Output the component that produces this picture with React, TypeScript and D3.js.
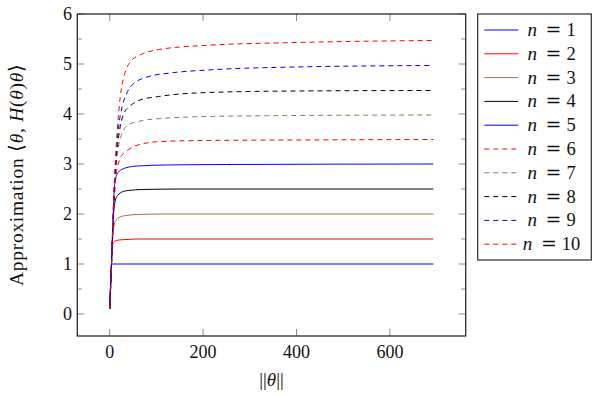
import React from "react";
import { scaleLinear, line, curveMonotoneX } from "d3";

// approximation curves, one [||theta||, value] list per n
const pts1: [number, number][] = [[0, 0.1], [3, 0.8], [4.5, 1.0], [8, 1.0], [693, 1.0]];
const pts2: [number, number][] = [[0, 0.1], [3, 0.8], [5, 1.25], [6, 1.36], [8, 1.43], [12, 1.46], [20, 1.48], [35, 1.49], [60, 1.5], [693, 1.5]];
const pts3: [number, number][] = [[0, 0.1], [3, 0.8], [6, 1.45], [8, 1.68], [10, 1.8], [14, 1.88], [20, 1.93], [35, 1.97], [60, 1.99], [120, 2.0], [693, 2.0]];
const pts4: [number, number][] = [[0, 0.1], [3, 0.8], [6, 1.55], [8, 1.95], [10, 2.15], [13, 2.3], [18, 2.38], [26, 2.44], [40, 2.47], [70, 2.49], [150, 2.5], [693, 2.5]];
const pts5: [number, number][] = [[0, 0.1], [3, 0.8], [6, 1.55], [8, 2.1], [10, 2.5], [13, 2.72], [19, 2.84], [28, 2.9], [37, 2.93], [60, 2.96], [120, 2.98], [250, 2.99], [693, 3.0]];
const pts6: [number, number][] = [[0, 0.1], [3, 0.75], [6, 1.45], [10, 2.3], [14, 2.8], [19, 3.02], [24, 3.14], [41, 3.29], [73, 3.41], [110, 3.45], [200, 3.47], [400, 3.48], [693, 3.49]];
const pts7: [number, number][] = [[0, 0.1], [3, 0.75], [6, 1.5], [10, 2.4], [15, 3.1], [20, 3.4], [28, 3.65], [40, 3.78], [65, 3.86], [110, 3.91], [210, 3.95], [400, 3.97], [693, 3.98]];
const pts8: [number, number][] = [[0, 0.1], [3, 0.75], [6, 1.55], [10, 2.5], [15, 3.2], [20, 3.6], [30, 4.0], [45, 4.17], [65, 4.28], [105, 4.35], [210, 4.43], [400, 4.46], [693, 4.47]];
const pts9: [number, number][] = [[0, 0.1], [3, 0.75], [6, 1.6], [10, 2.55], [15, 3.3], [20, 3.8], [26, 4.12], [35, 4.38], [45, 4.55], [80, 4.74], [130, 4.82], [210, 4.88], [400, 4.94], [693, 4.97]];
const pts10: [number, number][] = [[0, 0.1], [3, 0.75], [6, 1.65], [10, 2.65], [15, 3.5], [20, 4.1], [25, 4.5], [32, 4.8], [45, 5.05], [65, 5.18], [100, 5.28], [200, 5.37], [400, 5.43], [693, 5.47]];

const series = [pts1, pts2, pts3, pts4, pts5, pts6, pts7, pts8, pts9, pts10];
const legendN = ["1", "2", "3", "4", "5", "6", "7", "8", "9", "10"];
const lineColors = ["#0000ff", "#ff0000", "#9c7650", "#000000", "#0000ff", "#ff0000", "#9c7650", "#000000", "#0000ff", "#ff0000"];
const dashed = [false, false, false, false, false, true, true, true, true, true];

const xTicks = [0, 200, 400, 600];
const yTicks = [0, 1, 2, 3, 4, 5, 6];
const yMinor = [0.5, 1.5, 2.5, 3.5, 4.5, 5.5];

const W = 598;
const H = 396;
const left = 77.3;
const right = 465.7;
const top = 14;
const bottom = 336;
const font = "'Liberation Serif', 'Times New Roman', serif";

export default function App() {
  const x = scaleLinear().domain([-69.3, 762.3]).range([left, right]);
  const y = scaleLinear().domain([-0.44, 6.0]).range([bottom, top]);
  const path = line<[number, number]>()
    .x(d => x(d[0]))
    .y(d => y(d[1]))
    .curve(curveMonotoneX);

  const major = 7;
  const minor = 4.5;
  const tickColor = "#8a8a8a";

  // legend geometry
  const lgX = 477.7, lgY = 14, lgW = 113.6, lgH = 246;
  const rowGap = 23.8;
  const textCenter = 551.5;

  return (
    <svg width={W} height={H} style={{ position: "absolute", left: 0, top: 0 }} fontFamily={font}>
      <rect width={W} height={H} fill="#fff" />

      {/* ticks, mirrored on all four sides */}
      {xTicks.map(t => (
        <g key={"xt" + t} stroke={tickColor} strokeWidth={1}>
          <line x1={x(t)} x2={x(t)} y1={bottom} y2={bottom - major} />
          <line x1={x(t)} x2={x(t)} y1={top} y2={top + major} />
        </g>
      ))}
      {yTicks.map(t => (
        <g key={"yt" + t} stroke={tickColor} strokeWidth={1}>
          <line x1={left} x2={left + major} y1={y(t)} y2={y(t)} />
          <line x1={right} x2={right - major} y1={y(t)} y2={y(t)} />
        </g>
      ))}
      {yMinor.map(t => (
        <g key={"ym" + t} stroke={tickColor} strokeWidth={1}>
          <line x1={left} x2={left + minor} y1={y(t)} y2={y(t)} />
          <line x1={right} x2={right - minor} y1={y(t)} y2={y(t)} />
        </g>
      ))}

      {series.map((s, i) => (
        <path
          key={"s" + i}
          d={path(s) || ""}
          fill="none"
          stroke={lineColors[i]}
          strokeWidth={1}
          strokeDasharray={dashed[i] ? "5,4" : undefined}
        />
      ))}

      <rect x={left} y={top} width={right - left} height={bottom - top} fill="none" stroke="#2a2a2a" strokeWidth={1.3} />

      {xTicks.map(t => (
        <text key={"xl" + t} x={x(t)} y={357.5} textAnchor="middle" fontSize={18} fill="#111">{t}</text>
      ))}
      {yTicks.map(t => (
        <text key={"yl" + t} x={72} y={y(t) + 6} textAnchor="end" fontSize={18} fill="#111">{t}</text>
      ))}

      <text x={(left + right) / 2} y={386} textAnchor="middle" fontSize={19} fill="#111">
        ||<tspan fontStyle="italic">θ</tspan>||
      </text>
      <text transform={`translate(23,${(top + bottom) / 2}) rotate(-90)`} textAnchor="middle" fontSize={19.5} fill="#111"
        textLength={222} lengthAdjust="spacing">
        Approximation ⟨<tspan fontStyle="italic">θ</tspan>, <tspan fontStyle="italic">H</tspan>(<tspan fontStyle="italic">θ</tspan>)<tspan fontStyle="italic">θ</tspan>⟩
      </text>

      {/* legend */}
      <rect x={lgX} y={lgY} width={lgW} height={lgH} fill="#fff" stroke="#2a2a2a" strokeWidth={1.2} />
      {legendN.map((n, i) => {
        const cy = 30 + i * rowGap;
        const x0 = textCenter - (38.5 + 9.4 * n.length) / 2;
        return (
          <g key={"lg" + i}>
            <line x1={484.3} x2={518.3} y1={cy} y2={cy} stroke={lineColors[i]} strokeWidth={1}
              strokeDasharray={dashed[i] ? "5,4" : undefined} />
            <text x={x0} y={cy + 6} fontSize={19} fontStyle="italic" fill="#111">n</text>
            <text x={x0 + 26} y={cy + 6} fontSize={19} textAnchor="middle" fontFamily="'DejaVu Serif', serif" fill="#111">=</text>
            <text x={x0 + 39} y={cy + 6} fontSize={18.5} fill="#111">{n}</text>
          </g>
        );
      })}
    </svg>
  );
}
